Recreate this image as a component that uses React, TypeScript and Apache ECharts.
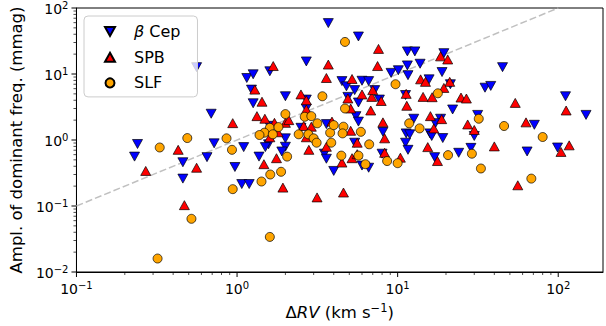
import React, { useEffect, useRef } from "react";
import * as echarts from "echarts";

// [ΔRV (km/s), amplitude (mmag)]
const betaCep: [number, number][] = [
  [0.23, 0.56], [0.24, 0.87], [0.46, 0.46], [0.46, 0.26], [0.56, 12.7], [0.69, 2.5], [0.72, 0.89], [0.65, 0.55], [0.97, 0.39],
  [3.7, 59], [5.7, 37], [2.7, 15.5], [1.15, 8.7], [1.26, 9.9], [1.6, 11], [1.23, 5.8], [1.26, 3.6], [2.0, 4.6],
  [4.5, 7.8], [4.8, 6.5], [5.4, 5.7], [6.0, 7.9], [6.6, 7.8], [7.2, 5.7], [9.1, 10.4], [10.1, 11.4],
  [4.9, 4.5], [5.7, 3.7], [7.7, 4.1], [2.7, 4.1], [2.7, 3.0], [5.5, 2.3], [5.7, 1.9], [3.6, 1.74], [2.5, 1.53], [8.1, 1.33],
  [1.59, 1.64], [2.0, 1.06], [2.0, 0.79], [1.9, 0.67], [1.57, 0.86], [1.5, 0.78], [1.1, 0.78], [1.37, 0.56], [1.07, 0.215], [1.19, 0.215],
  [3.5, 0.62], [3.6, 0.52], [4.0, 0.34], [5.4, 0.91], [8.0, 0.62], [6.0, 0.41], [6.6, 0.38],
  [11.5, 22], [12.8, 22], [19.4, 20.7], [11.5, 13.5], [13.8, 14.3], [18.9, 10.7], [11.6, 9.6], [15.7, 8.3], [21.3, 7.0], [35, 6.2], [38, 6.6], [45, 12.7],
  [111, 4.6], [22, 2.9], [149, 2.4], [12.6, 2.1], [11.2, 4.8], [18.5, 2.1], [17.2, 1.8], [31.5, 2.4], [11.3, 1.26], [11.9, 1.22], [11.2, 0.91], [11.6, 0.71],
  [15.9, 1.26], [16.3, 1.15], [19.1, 1.07], [30, 1.15], [28.6, 0.76], [24, 0.64], [17, 0.55], [64, 0.67], [71, 1.7], [99, 0.77],
];

const spb: [number, number][] = [
  [0.27, 0.34], [0.43, 0.71], [0.47, 0.103], [0.56, 0.38], [0.94, 1.8],
  [1.68, 13.2], [3.7, 13.9], [7.6, 24], [7.5, 13.2], [3.6, 8.7], [5.2, 8.4], [1.29, 5.8], [1.43, 3.8], [2.5, 4.9], [2.7, 4.0], [2.7, 2.9], [1.33, 2.3], [1.49, 2.1],
  [4.9, 4.25], [5.1, 3.0], [6.0, 4.9], [6.9, 4.5], [7.0, 5.7], [7.9, 3.9], [6.8, 2.8], [8.1, 1.85], [8.3, 1.06], [8.3, 0.64],
  [3.9, 1.9], [2.6, 1.63], [2.9, 1.59], [2.7, 1.1], [1.8, 1.31], [2.0, 1.82], [2.1, 2.0], [1.6, 1.1], [3.6, 0.79], [2.8, 0.71],
  [5.1, 1.38], [5.6, 0.91], [5.2, 0.53], [4.5, 0.455], [5.6, 0.61], [1.76, 0.53], [1.47, 0.43], [1.93, 0.19], [3.15, 0.135], [4.6, 0.16], [1.71, 1.82],
  [18.5, 18.5], [20.5, 16.6], [13.9, 8.3], [14.9, 7.6], [21.1, 7.6], [19.4, 6.15], [11.3, 5.0], [11.4, 3.3], [14.4, 4.5], [16.4, 4.45], [24.8, 4.4], [26.8, 4.25], [54, 3.65], [112, 2.8],
  [16, 2.3], [18.8, 2.07], [16.8, 1.5], [27.3, 1.72], [30, 1.42], [63, 1.85], [40, 0.8], [15.4, 0.78], [17.7, 0.48], [10.4, 0.54], [56, 0.206], [104, 0.66], [117, 0.83],
];

const slf: [number, number][] = [
  [0.33, 0.77], [0.49, 1.07], [0.52, 0.064], [0.32, 0.016], [0.86, 1.06], [0.93, 0.71], [0.94, 0.18],
  [4.7, 30.6], [3.4, 4.6], [4.7, 3.0], [2.0, 2.47], [2.64, 2.25], [2.9, 2.3], [3.16, 1.79], [1.6, 1.53], [1.81, 1.57], [1.48, 1.29], [1.38, 1.19], [1.67, 1.22],
  [2.42, 1.22], [2.78, 1.22], [3.0, 1.06], [3.13, 0.91], [3.8, 1.29], [4.0, 1.68], [3.86, 0.91], [4.6, 1.59], [4.54, 1.26], [5.9, 1.33], [6.65, 0.86],
  [4.46, 0.58], [5.7, 0.58], [6.3, 0.43], [8.6, 0.48], [10, 0.445], [9.7, 7.0], [2.05, 0.56], [1.88, 0.33], [1.61, 0.3], [1.42, 0.235], [1.6, 0.034],
  [17.8, 5.1], [11.8, 1.79], [13.7, 1.5], [32, 2.1], [46, 1.63], [80, 1.11], [20.6, 0.59], [29, 0.62], [33, 0.37], [68, 0.26],
];

const identityLine: [number, number][] = [[0.1, 0.1], [100, 100]];

const seriesNames = ["β Cep", "SPB", "SLF"];
const xRange = [0.1, 190];
const yRange = [0.01, 100];
const xMajorTicks = [0.1, 1, 10, 100];
const yMajorTicks = [0.01, 0.1, 1, 10, 100];

const FONT = "DejaVu Sans";
const DOWN_TRI = "path://M0,0L10,0L5,9Z";

function minorTicks(min: number, max: number): number[] {
  const out: number[] = [];
  for (let e = Math.floor(Math.log10(min)); e <= Math.ceil(Math.log10(max)); e++) {
    for (let m = 2; m <= 9; m++) {
      const v = m * Math.pow(10, e);
      if (v > min && v < max) out.push(v);
    }
  }
  return out;
}

function powLabel(v: number): string {
  const e = Math.log10(v);
  const r = Math.round(e);
  if (Math.abs(e - r) > 1e-6) return "";
  const s = r < 0 ? "\u2212" + -r : String(r);
  return `{b|10}{s|${s}}`;
}

const tickRich = {
  b: { fontSize: 14, fontFamily: FONT, color: "#000", lineHeight: 16, verticalAlign: "bottom" },
  s: { fontSize: 10, fontFamily: FONT, color: "#000", lineHeight: 12, verticalAlign: "top", padding: [0, 0, 7, 0] },
};

const nameRich = {
  b: { fontSize: 16.5, fontFamily: FONT, color: "#000", lineHeight: 19, verticalAlign: "bottom" },
  it: { fontSize: 16.5, fontFamily: FONT, color: "#000", fontStyle: "italic", lineHeight: 19, verticalAlign: "bottom" },
  s: { fontSize: 11.5, fontFamily: FONT, color: "#000", lineHeight: 14, verticalAlign: "top", padding: [0, 0, 7, 0] },
};

export default function App() {
  const ref = useRef<HTMLDivElement>(null);
  useEffect(() => {
    if (!ref.current) return;
    const chart = echarts.init(ref.current, undefined, { renderer: "svg" });
    const border = { borderColor: "#000", borderWidth: 0.7, opacity: 1 };
    chart.setOption({
      animation: false,
      backgroundColor: "#fff",
      grid: { left: 76, right: 1, top: 7, bottom: 54, show: true, borderColor: "#000", borderWidth: 1, backgroundColor: "transparent" },
      legend: {
        orient: "vertical",
        left: 84,
        top: 16,
        data: [
          { name: seriesNames[0], icon: DOWN_TRI },
          { name: seriesNames[1], icon: "triangle" },
          { name: seriesNames[2], icon: "circle" },
        ],
        itemWidth: 10,
        itemHeight: 9,
        itemGap: 9.7,
        padding: [7.5, 17, 6, 20],
        backgroundColor: "rgba(255,255,255,0.8)",
        borderColor: "#cccccc",
        borderWidth: 1,
        borderRadius: 4,
        formatter: (name: string) => (name === "β Cep" ? "{it|β}{n| Cep}" : `{n|${name}}`),
        textStyle: {
          padding: [0, 0, 0, 14],
          rich: {
            n: { fontSize: 16, fontFamily: FONT, color: "#000", lineHeight: 18 },
            it: { fontSize: 16, fontFamily: FONT, color: "#000", fontStyle: "italic", lineHeight: 18 },
          },
        },
      },
      xAxis: {
        type: "log",
        logBase: 10,
        min: xRange[0],
        max: xRange[1],
        name: "{b|Δ}{it|RV}{b| (km s}{s|\u22121}{b|)}",
        nameLocation: "middle",
        nameGap: 26,
        nameTextStyle: { rich: nameRich },
        axisLine: { show: true, lineStyle: { color: "#000", width: 1 } },
        axisTick: { show: false },
        minorTick: { show: false },
        splitLine: { show: false },
        axisLabel: { formatter: powLabel, margin: 8, rich: tickRich },
      },
      yAxis: {
        type: "log",
        logBase: 10,
        min: yRange[0],
        max: yRange[1],
        name: "Ampl. of dominant freq. (mmag)",
        nameLocation: "middle",
        nameGap: 49,
        nameTextStyle: { fontSize: 16.5, fontFamily: FONT, color: "#000" },
        axisLine: { show: true, lineStyle: { color: "#000", width: 1 } },
        axisTick: { show: false },
        minorTick: { show: false },
        splitLine: { show: false },
        axisLabel: { formatter: powLabel, margin: 8, rich: tickRich },
      },
      series: [
        {
          type: "line",
          data: identityLine,
          symbol: "none",
          silent: true,
          z: 1,
          lineStyle: { color: "#c0c0c0", width: 1.5, type: [7, 3] },
        },
        {
          name: seriesNames[0],
          type: "scatter",
          data: betaCep,
          symbol: DOWN_TRI,
          symbolSize: [10, 9],
          itemStyle: { color: "#0000ff", ...border },
        },
        {
          name: seriesNames[1],
          type: "scatter",
          data: spb,
          symbol: "triangle",
          symbolSize: [10, 9],
          itemStyle: { color: "#ff0000", ...border },
        },
        {
          name: seriesNames[2],
          type: "scatter",
          data: slf,
          symbol: "circle",
          symbolSize: 9,
          itemStyle: { color: "#ffa500", ...border },
        },
      ],
    });

    // ticks drawn through the axis scales
    const x0 = chart.convertToPixel({ xAxisIndex: 0 }, xRange[0]) as number;
    const yBottom = chart.convertToPixel({ yAxisIndex: 0 }, yRange[0]) as number;
    const graphics: any[] = [];
    const addX = (v: number, len: number, w: number) => {
      const px = chart.convertToPixel({ xAxisIndex: 0 }, v) as number;
      graphics.push({ type: "line", shape: { x1: px, y1: yBottom, x2: px, y2: yBottom + len }, style: { stroke: "#000", lineWidth: w }, silent: true });
    };
    const addY = (v: number, len: number, w: number) => {
      const py = chart.convertToPixel({ yAxisIndex: 0 }, v) as number;
      graphics.push({ type: "line", shape: { x1: x0, y1: py, x2: x0 - len, y2: py }, style: { stroke: "#000", lineWidth: w }, silent: true });
    };
    xMajorTicks.forEach((v) => addX(v, 5, 1));
    minorTicks(xRange[0], xRange[1]).forEach((v) => addX(v, 3, 0.7));
    yMajorTicks.forEach((v) => addY(v, 5, 1));
    minorTicks(yRange[0], yRange[1]).forEach((v) => addY(v, 3, 0.7));
    chart.setOption({ graphic: graphics });

    return () => chart.dispose();
  }, []);
  return <div ref={ref} style={{ position: "fixed", left: 0, top: 0, width: 606, height: 326 }} />;
}
